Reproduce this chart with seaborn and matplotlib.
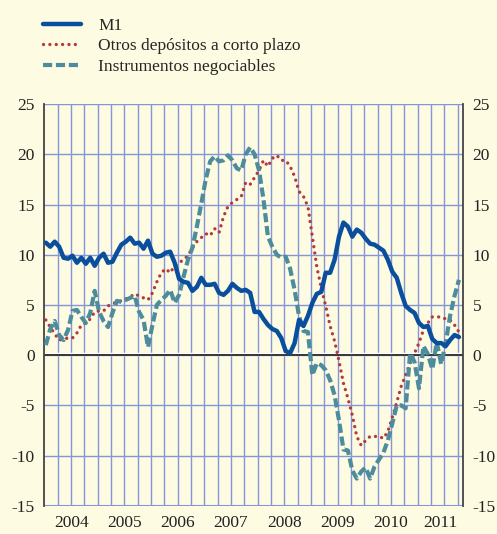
import numpy as np
import pandas as pd
import seaborn as sns
import matplotlib.pyplot as plt

# tasas de variacion interanual, enero 2004 - octubre 2011 (mensual)
m1 = [11.2, 10.8, 11.3, 10.8, 9.7, 9.6, 9.9, 9.2, 9.7, 9.1, 9.7, 8.9,
      9.7, 10.1, 9.2, 9.3, 10.2, 11.0, 11.3, 11.7, 11.1, 11.2, 10.6, 11.4,
      10.1, 9.8, 9.9, 10.2, 10.3, 9.2, 7.6, 7.3, 7.2, 6.4, 6.8, 7.7,
      7.0, 7.0, 7.1, 6.2, 6.0, 6.4, 7.1, 6.7, 6.4, 6.5, 6.2, 4.3,
      4.3, 3.6, 3.0, 2.6, 2.4, 1.7, 0.4, 0.2, 1.2, 3.5, 2.9, 3.9,
      5.2, 6.1, 6.3, 8.2, 8.2, 9.5, 11.8, 13.2, 12.8, 11.8, 12.5, 12.2,
      11.6, 11.1, 11.0, 10.7, 10.4, 9.5, 8.3, 7.7, 6.2, 4.9, 4.5, 4.2,
      3.2, 2.8, 2.9, 1.6, 1.2, 1.2, 0.9, 1.5, 2.0, 1.8]
otros = [3.5, 2.8, 2.1, 1.5, 1.6, 1.7, 1.7, 2.2, 3.0, 3.2, 3.6, 4.3,
         4.4, 4.4, 4.9, 5.1, 5.3, 5.4, 5.6, 5.8, 6.1, 5.9, 5.7, 5.5,
         6.2, 7.3, 8.2, 8.6, 8.2, 8.9, 9.2, 9.5, 9.9, 10.7, 11.3, 11.7,
         12.1, 11.9, 12.6, 12.2, 13.8, 14.8, 15.2, 15.5, 15.8, 17.2, 17.0, 17.7,
         18.4, 19.4, 18.8, 19.6, 19.9, 19.4, 19.4, 18.8, 17.8, 16.3, 15.8, 14.8,
         11.8, 8.8, 6.7, 4.9, 2.9, 1.4, -0.6, -2.8, -4.3, -6.0, -8.1, -9.0,
         -8.5, -8.1, -8.1, -8.1, -8.3, -7.6, -6.2, -4.7, -3.1, -2.0, -0.8, 0.2,
         1.2, 2.5, 3.2, 3.8, 3.8, 3.8, 3.6, 3.5, 3.0, 2.3]
instrumentos = [1.0, 2.6, 3.4, 2.0, 1.5, 2.5, 4.4, 4.5, 3.8, 3.2, 4.2, 6.4,
                4.3, 3.4, 2.8, 4.2, 5.4, 5.3, 5.5, 5.7, 5.9, 4.3, 3.5, 0.8,
                3.0, 5.0, 5.5, 5.9, 6.5, 5.2, 6.0, 7.8, 9.5, 10.7, 12.8, 15.1,
                17.5, 19.3, 19.8, 19.3, 19.4, 19.9, 19.4, 18.6, 18.4, 20.0, 20.7, 20.0,
                18.4, 15.5, 11.8, 10.8, 10.0, 9.7, 9.8, 8.6, 6.5, 3.9, 2.4, 2.3,
                -2.0, -0.8, -1.0, -1.5, -2.5, -4.0, -6.5, -9.4, -9.5, -11.5, -12.3, -11.6,
                -11.2, -12.3, -11.1, -10.4, -9.7, -8.5, -6.8, -5.0, -5.0, -5.3, 0.2, -0.7,
                -3.3, 0.9, 0.1, -1.4, 1.3, -0.9, 1.2, 3.9, 5.9, 7.5]
years = list(range(2004, 2012))
yticks = [-15, -10, -5, 0, 5, 10, 15, 20, 25]

bg = '#fdfbe1'
grid_c = '#8595d8'
c_m1, c_otros, c_inst = '#0a4f9e', '#b5383a', '#4c8c9c'

fechas = pd.date_range('2004-01-01', periods=len(m1), freq='MS')
x = fechas.year + (fechas.month - 1 + 0.3) / 12
df = pd.DataFrame({'x': x, 'M1': m1, 'Otros': otros, 'Inst': instrumentos})

sns.set_style('white')
plt.rcParams['font.family'] = ['Liberation Serif', 'DejaVu Serif']

fig = plt.figure(figsize=(4.97, 5.34), dpi=100, facecolor=bg)
ax = fig.add_axes([0.0895, 0.053, 0.842, 0.752])
ax.set_facecolor(bg)

xmax = 2011.85
quarters = np.arange(2004.25, xmax, 0.25)
for q in quarters:
    ax.axvline(q, color=grid_c, lw=1, zorder=1)
for v in yticks[1:]:
    ax.axhline(v, color=grid_c, lw=1, zorder=1)
ax.axhline(-15, color=grid_c, lw=1.5, zorder=1)

sns.lineplot(data=df, x='x', y='Otros', ax=ax, color=c_otros, lw=2.4,
             linestyle=(0, (0.01, 1.9)), dash_capstyle='round',
             label='Otros depósitos a corto plazo', zorder=3)
sns.lineplot(data=df, x='x', y='Inst', ax=ax, color=c_inst, lw=3.0,
             linestyle=(0, (2.2, 0.9)), label='Instrumentos negociables', zorder=3)
sns.lineplot(data=df, x='x', y='M1', ax=ax, color=c_m1, lw=3.2,
             label='M1', zorder=4)

ax.axhline(0.15, color='white', lw=2.5, zorder=1.6)
ax.axhline(0, color='black', lw=1.1, zorder=1.7)

ax.set_xlim(2004, xmax)
ax.set_ylim(-15, 25)
ax.set_yticks(yticks)
ax.set_yticklabels([str(v) for v in yticks])
ax.set_xticks(quarters, minor=True)
centers = [y + 0.5 for y in years[:-1]] + [(years[-1] + xmax) / 2]
ax.set_xticks(centers)
ax.set_xticklabels([str(y) for y in years])
ax.grid(False)
ax.tick_params(axis='x', which='major', length=0, pad=7, labelsize=12.5, colors='#222222')
ax.tick_params(axis='x', which='minor', length=5, width=1.2, color='#333333', direction='out')
ax.tick_params(axis='y', length=0, labelsize=12.5, labelright=True, colors='#222222', pad=7)
for s in ['top', 'bottom']:
    ax.spines[s].set_visible(False)
for s in ['left', 'right']:
    ax.spines[s].set_color('#444444')
    ax.spines[s].set_linewidth(1.3)
ax.set_xlabel('')
ax.set_ylabel('')

handles, labels = ax.get_legend_handles_labels()
order = [labels.index('M1'), labels.index('Otros depósitos a corto plazo'),
         labels.index('Instrumentos negociables')]
ax.legend([handles[i] for i in order], [labels[i] for i in order],
          loc='upper left', bbox_to_anchor=(0.086, 0.967),
          bbox_transform=fig.transFigure, frameon=False, fontsize=12.5,
          handlelength=2.2, handletextpad=1.0, labelspacing=0.25, borderpad=0,
          borderaxespad=0)

fig.savefig('out.png', dpi=100, facecolor=bg)
